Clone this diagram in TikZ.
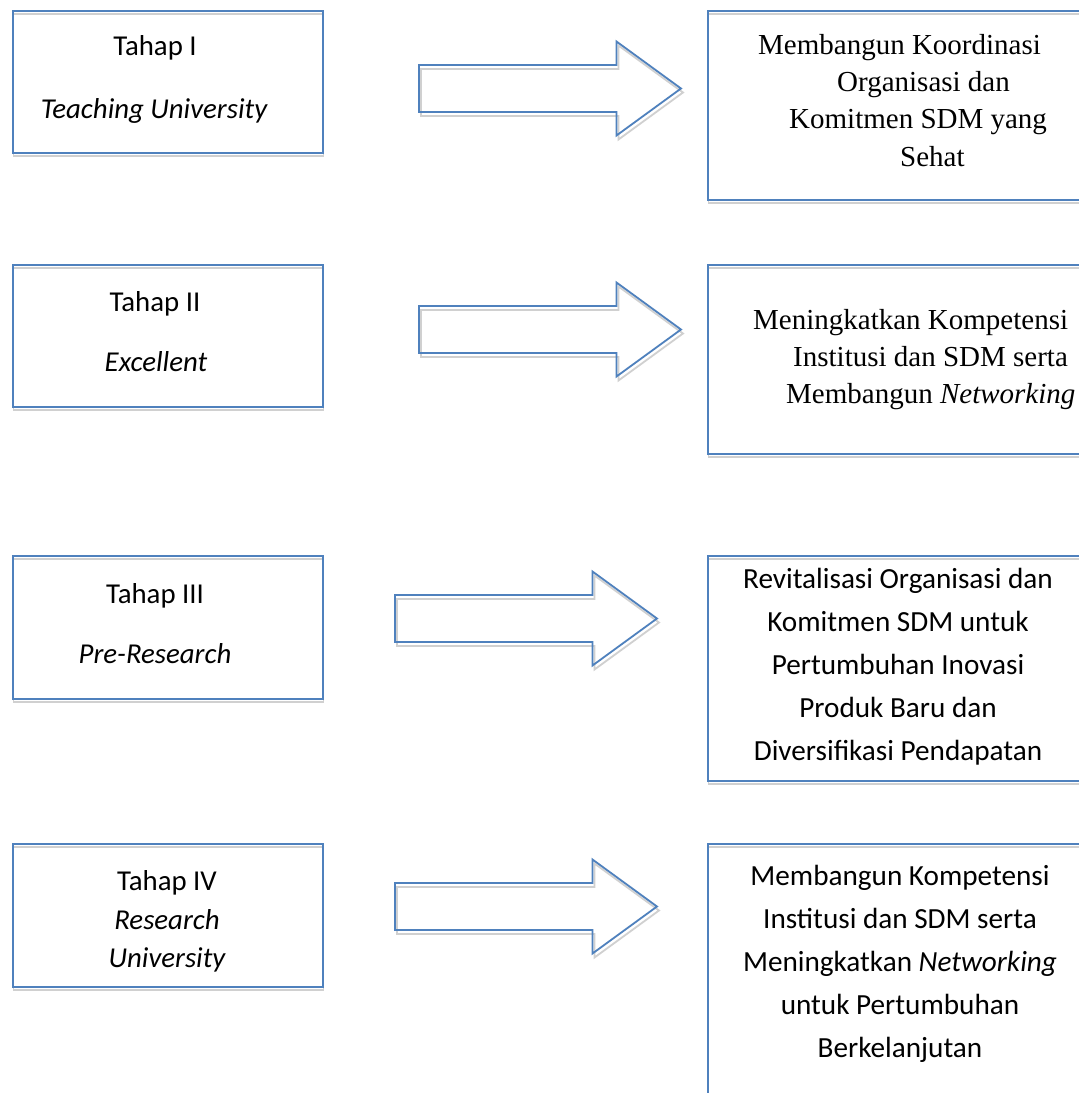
\documentclass[tikz,border=0pt]{standalone}
\usepackage{fontspec}
\setmainfont{Carlito}
\newfontfamily\tnr{Liberation Serif}
\definecolor{obl}{HTML}{4F81BD}
\definecolor{shd}{HTML}{D0D0D0}
\tikzset{
  frame/.style={draw=obl, line width=1.8pt, inner sep=0pt, anchor=north west},
  frameshadow/.style={draw=shd, line width=1.8pt},
  cal/.style={inner sep=0pt, anchor=base, font=\fontsize{28.8}{34}\selectfont},
  calr/.style={inner sep=0pt, anchor=base, font=\fontsize{29.2}{34}\selectfont},
  tms/.style={inner sep=0pt, anchor=base west, font=\tnr\fontsize{29}{34}\selectfont},
  barrow/.pic={
    \draw[frameshadow, shift={(2,4)}] (0,-23.5) -- (197.5,-23.5) -- (197.5,-47) -- (262,0)
      -- (197.5,47) -- (197.5,23.5) -- (0,23.5) -- cycle;
    \draw[draw=obl, line width=1.8pt] (0,-23.5) -- (197.5,-23.5) -- (197.5,-47) -- (262,0)
      -- (197.5,47) -- (197.5,23.5) -- (0,23.5) -- cycle;
  }
}
\begin{document}
\begin{tikzpicture}[x=1pt,y=-1pt]
\useasboundingbox (0,0) rectangle (1079,1093);
\clip (0,0) rectangle (1079,1093);
\fill[white] (0,0) rectangle (1079,1093);

% shadows of boxes
\draw[frameshadow] (13.5,14) rectangle (323.5,156);
\draw[frameshadow] (13.5,268) rectangle (323.5,410);
\draw[frameshadow] (13.5,559) rectangle (323.5,702);
\draw[frameshadow] (13.5,847) rectangle (323.5,990);
\draw[frameshadow] (708.5,14) rectangle (1100,203);
\draw[frameshadow] (708.5,268) rectangle (1100,457);
\draw[frameshadow] (708.5,559) rectangle (1100,784);
\draw[frameshadow] (708.5,847) rectangle (1100,1120);

% left boxes
\node[frame, minimum width=310pt, minimum height=142pt] (B1) at (12,10) {};
\node[frame, minimum width=310pt, minimum height=142pt] (B2) at (12,264) {};
\node[frame, minimum width=310pt, minimum height=143pt] (B3) at (12,555) {};
\node[frame, minimum width=310pt, minimum height=143pt] (B4) at (12,843) {};

% right boxes
\node[frame, minimum width=390pt, minimum height=189pt] (R1) at (707,10) {};
\node[frame, minimum width=390pt, minimum height=189pt] (R2) at (707,264) {};
\node[frame, minimum width=390pt, minimum height=225pt] (R3) at (707,555) {};
\node[frame, minimum width=390pt, minimum height=280pt] (R4) at (707,843) {};

% block arrows
\pic (A1) at (419,88.5) {barrow};
\pic (A2) at (419,329.5) {barrow};
\pic (A3) at (395,618.5) {barrow};
\pic (A4) at (395,906.5) {barrow};

% left texts
\node[cal] (T1a) at (155,55) {Tahap I};
\node[cal] (T1b) at (154,118) {\itshape Teaching University};
\node[cal] (T2a) at (155,311) {Tahap II};
\node[cal] (T2b) at (156,371) {\itshape Excellent};
\node[cal] (T3a) at (155,603) {Tahap III};
\node[cal] (T3b) at (155,663) {\itshape Pre-Research};
\node[cal] (T4a) at (167,890) {Tahap IV};
\node[cal] (T4b) at (167,929) {\itshape Research};
\node[cal] (T4c) at (167,967) {\itshape University};

% right texts
\node[tms] (S1a) at (758,54) {Membangun Koordinasi};
\node[tms] (S1b) at (837,91) {Organisasi dan};
\node[tms] (S1c) at (789,128) {Komitmen SDM yang};
\node[tms] (S1d) at (900,166) {Sehat};

\node[tms] (S2a) at (753,329) {Meningkatkan Kompetensi};
\node[tms] (S2b) at (793,366) {Institusi dan SDM serta};
\node[tms] (S2c) at (786,403) {Membangun \textit{Networking}};

\node[calr] (S3a) at (898,588) {Revitalisasi Organisasi dan};
\node[calr] (S3b) at (898,631) {Komitmen SDM untuk};
\node[calr] (S3c) at (898,674) {Pertumbuhan Inovasi};
\node[calr] (S3d) at (898,717) {Produk Baru dan};
\node[calr] (S3e) at (898,760) {Diversifikasi Pendapatan};

\node[calr] (S4a) at (900,885) {Membangun Kompetensi};
\node[calr] (S4b) at (900,928) {Institusi dan SDM serta};
\node[calr] (S4c) at (900,971) {Meningkatkan \textit{Networking}};
\node[calr] (S4d) at (900,1014) {untuk Pertumbuhan};
\node[calr] (S4e) at (900,1057) {Berkelanjutan};
\end{tikzpicture}
\end{document}
